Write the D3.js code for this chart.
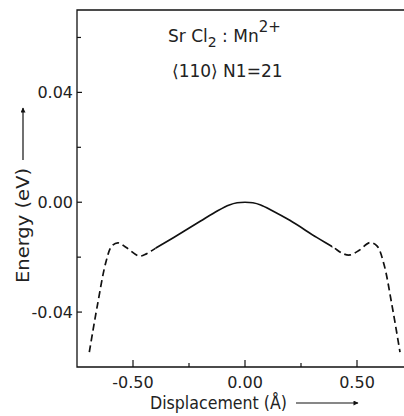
<!doctype html>
<html>
<head>
<meta charset="utf-8">
<script src="https://cdnjs.cloudflare.com/ajax/libs/d3/7.8.5/d3.min.js"></script>
<style>
  body { margin: 0; background: #fff; }
  svg { display: block; font-family: "DejaVu Sans", sans-serif; }
  .lbl { font-size: 16px; fill: #222; }
  .ttl { font-size: 17px; fill: #222; }
</style>
</head>
<body>
<script>
// displacement (Å) and energy (eV)
var disp = [-0.695, -0.66, -0.62, -0.595, -0.567, -0.53, -0.472, -0.44, -0.40, -0.32, -0.20, -0.12, -0.07, -0.035, 0,
            0.035, 0.07, 0.12, 0.20, 0.32, 0.39, 0.44, 0.469, 0.51, 0.558, 0.59, 0.62, 0.655, 0.692];
var energy = [-0.0546, -0.038, -0.0215, -0.016, -0.0148, -0.0165, -0.0196, -0.0188, -0.0168, -0.0129, -0.0069, -0.0030, -0.0010, -0.0002, 0,
              -0.0002, -0.0010, -0.0030, -0.0066, -0.0128, -0.0162, -0.0188, -0.0192, -0.0175, -0.0147, -0.016, -0.0225, -0.037, -0.0546];
// part of the curve drawn solid, rest dashed
var solidRange = [-0.40, 0.39];

var xMajor = [-0.5, 0, 0.5];
var xMinor = [-0.25, 0.25];
var yMajor = [-0.04, 0, 0.04];
var yMinor = [-0.02, 0.02, 0.06];

var width = 404, height = 416;
var svg = d3.select("body").append("svg")
    .attr("width", width)
    .attr("height", height);

var x = d3.scaleLinear().domain([-0.75, 0.75]).range([77, 413]);
var y = d3.scaleLinear().domain([-0.06, 0.07]).range([367, 10]);

var fmt = d3.format(".2f");
var fmtY = function(d) { return d < 0 ? "-" + fmt(-d) : fmt(d); };

// frame: left, top, bottom
svg.append("path")
    .attr("d", "M" + width + "," + y(0.07) + "H" + x(-0.75) + "V" + y(-0.06) + "H" + width)
    .attr("fill", "none")
    .attr("stroke", "#111")
    .attr("stroke-width", 1.3);

// x ticks (pointing up)
svg.append("g").selectAll("line").data(xMajor.concat(xMinor)).enter().append("line")
    .attr("x1", function(d) { return x(d); })
    .attr("x2", function(d) { return x(d); })
    .attr("y1", y(-0.06))
    .attr("y2", function(d) { return y(-0.06) - (xMajor.indexOf(d) >= 0 ? 7 : 4); })
    .attr("stroke", "#111").attr("stroke-width", 1.2);

svg.append("g").selectAll("text").data(xMajor).enter().append("text")
    .attr("class", "lbl")
    .attr("x", function(d) { return x(d); })
    .attr("y", 388)
    .attr("text-anchor", "middle")
    .text(fmtY);

// y ticks (pointing right)
svg.append("g").selectAll("line").data(yMajor.concat(yMinor)).enter().append("line")
    .attr("x1", x(-0.75))
    .attr("x2", function(d) { return x(-0.75) + (yMajor.indexOf(d) >= 0 ? 5 : 4); })
    .attr("y1", function(d) { return y(d); })
    .attr("y2", function(d) { return y(d); })
    .attr("stroke", "#111").attr("stroke-width", 1.2);

svg.append("g").selectAll("text").data(yMajor).enter().append("text")
    .attr("class", "lbl")
    .attr("x", 73)
    .attr("y", function(d) { return y(d); })
    .attr("dy", "0.36em")
    .attr("text-anchor", "end")
    .text(fmtY);

// axis titles with arrows
svg.append("text")
    .attr("class", "ttl")
    .attr("x", 150).attr("y", 409)
    .attr("textLength", 137).attr("lengthAdjust", "spacingAndGlyphs")
    .text("Displacement (Å)");

svg.append("text")
    .attr("class", "ttl")
    .attr("transform", "translate(29,283) rotate(-90)")
    .attr("textLength", 115).attr("lengthAdjust", "spacingAndGlyphs")
    .text("Energy (eV)");

var defs = svg.append("defs");
defs.append("marker")
    .attr("id", "arr")
    .attr("viewBox", "0 0 10 10")
    .attr("refX", 9).attr("refY", 5)
    .attr("markerWidth", 8).attr("markerHeight", 5)
    .attr("markerUnits", "userSpaceOnUse")
    .attr("orient", "auto")
    .append("path").attr("d", "M0,0L10,5L0,10z").attr("fill", "#111");

svg.append("line")
    .attr("x1", 296).attr("x2", 358).attr("y1", 403).attr("y2", 403)
    .attr("stroke", "#111").attr("stroke-width", 1.2)
    .attr("marker-end", "url(#arr)");

svg.append("line")
    .attr("x1", 23).attr("x2", 23).attr("y1", 160).attr("y2", 108)
    .attr("stroke", "#111").attr("stroke-width", 1.2)
    .attr("marker-end", "url(#arr)");

// annotation
var t1 = svg.append("text").attr("class", "ttl").attr("x", 168).attr("y", 42);
t1.append("tspan").text("Sr Cl");
t1.append("tspan").attr("dy", 5).attr("font-size", 14).text("2");
t1.append("tspan").attr("dy", -5).text(" : Mn");
t1.append("tspan").attr("dy", -10).attr("font-size", 15).text("2+");

svg.append("text").attr("class", "ttl")
    .attr("x", 172).attr("y", 77)
    .text("\u27E8110\u27E9  N1=21");

// curve
var pts = disp.map(function(d, i) { return [d, energy[i]]; });
var line = d3.line()
    .x(function(d) { return x(d[0]); })
    .y(function(d) { return y(d[1]); })
    .curve(d3.curveCatmullRom.alpha(0.5));

var xs0 = x(solidRange[0]), xs1 = x(solidRange[1]);
defs.append("clipPath").attr("id", "inner")
    .append("rect").attr("x", xs0).attr("y", 0).attr("width", xs1 - xs0).attr("height", height);
var outer = defs.append("clipPath").attr("id", "outer");
outer.append("rect").attr("x", 0).attr("y", 0).attr("width", xs0).attr("height", height);
outer.append("rect").attr("x", xs1).attr("y", 0).attr("width", width - xs1).attr("height", height);

svg.append("path")
    .attr("d", line(pts))
    .attr("fill", "none")
    .attr("stroke", "#111")
    .attr("stroke-width", 1.7)
    .attr("clip-path", "url(#inner)");

svg.append("path")
    .attr("d", line(pts))
    .attr("fill", "none")
    .attr("stroke", "#111")
    .attr("stroke-width", 1.7)
    .attr("stroke-dasharray", "7,4")
    .attr("clip-path", "url(#outer)");
</script>
</body>
</html>
